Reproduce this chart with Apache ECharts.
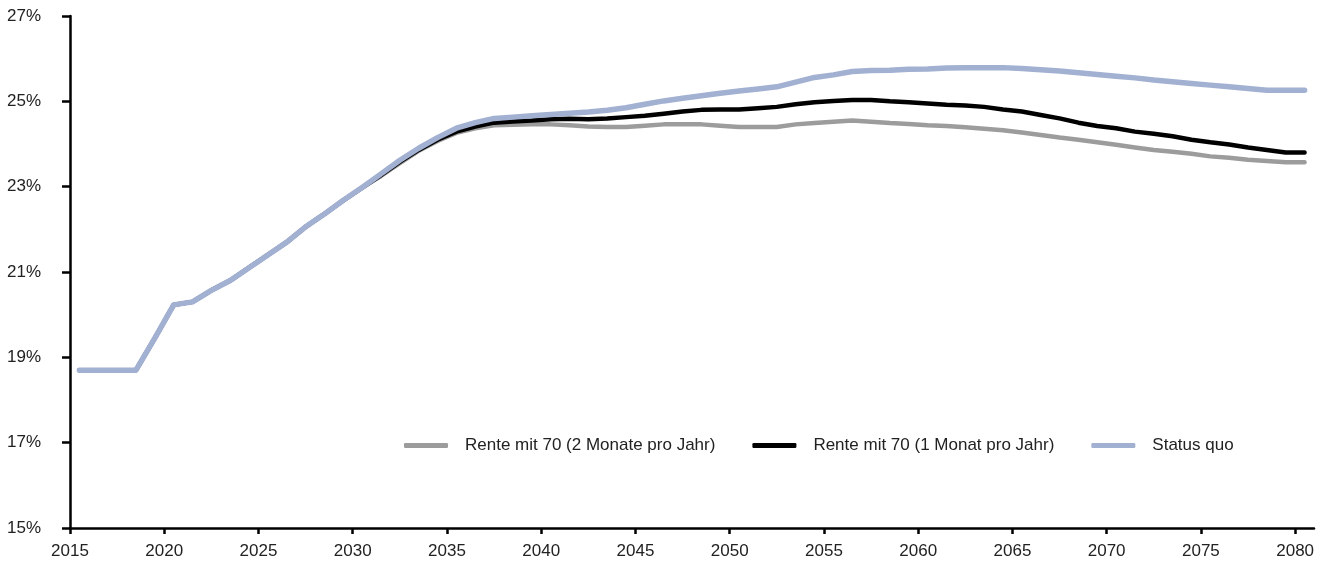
<!DOCTYPE html>
<html>
<head>
<meta charset="utf-8">
<script src="https://cdn.jsdelivr.net/npm/echarts@6/dist/echarts.min.js"></script>
<style>
html,body{margin:0;padding:0;background:#fff;}
#chart{width:1332px;height:570px;}
</style>
</head>
<body>
<div id="chart"></div>
<script>
// Years (values plotted at mid-year)
const years = [];
for (let y = 2015; y <= 2080; y++) years.push(y);

const statusQuo = [
  18.7, 18.7, 18.7, 18.7, 19.45, 20.23, 20.3, 20.57, 20.8, 21.1,
  21.4, 21.7, 22.06, 22.36, 22.68, 22.98, 23.3, 23.62, 23.9, 24.15,
  24.37, 24.5, 24.6, 24.63, 24.66, 24.69, 24.72, 24.75, 24.79, 24.85,
  24.93, 25.01, 25.07, 25.13, 25.19, 25.24, 25.29, 25.34, 25.45, 25.56,
  25.62, 25.7, 25.72, 25.73, 25.75, 25.76, 25.78, 25.79, 25.79, 25.79,
  25.77, 25.74, 25.71, 25.67, 25.63, 25.59, 25.55, 25.5, 25.46, 25.42,
  25.38, 25.34, 25.3, 25.26, 25.26, 25.26
];

const rente1Monat = [
  18.7, 18.7, 18.7, 18.7, 19.45, 20.23, 20.3, 20.57, 20.8, 21.1,
  21.4, 21.7, 22.06, 22.36, 22.68, 22.98, 23.27, 23.58, 23.86, 24.1,
  24.29, 24.41, 24.5, 24.53, 24.55, 24.58, 24.59, 24.58, 24.6, 24.63,
  24.66, 24.71, 24.76, 24.8, 24.81, 24.81, 24.84, 24.87, 24.93, 24.98,
  25.01, 25.03, 25.03, 25.0, 24.98, 24.95, 24.92, 24.9, 24.87, 24.81,
  24.76, 24.68, 24.6, 24.5, 24.42, 24.37, 24.29, 24.24, 24.18, 24.1,
  24.04, 23.99, 23.92, 23.86, 23.8, 23.8
];

const rente2Monate = [
  18.7, 18.7, 18.7, 18.7, 19.45, 20.23, 20.3, 20.57, 20.8, 21.1,
  21.4, 21.7, 22.06, 22.36, 22.68, 22.98, 23.25, 23.55, 23.84, 24.07,
  24.26, 24.37, 24.44, 24.45, 24.46, 24.46, 24.44, 24.41, 24.4, 24.4,
  24.43, 24.46, 24.46, 24.46, 24.43, 24.4, 24.4, 24.4, 24.46, 24.49,
  24.52, 24.55, 24.52, 24.49, 24.47, 24.44, 24.42, 24.39, 24.36, 24.32,
  24.27, 24.21, 24.15, 24.1, 24.04, 23.98, 23.92, 23.86, 23.82, 23.77,
  23.71, 23.68, 23.63, 23.6, 23.57, 23.57
];

const xTicks = [2015, 2020, 2025, 2030, 2035, 2040, 2045, 2050, 2055, 2060, 2065, 2070, 2075, 2080];
const yTicks = [15, 17, 19, 21, 23, 25, 27];

const seriesNames = ['Rente mit 70 (2 Monate pro Jahr)', 'Rente mit 70 (1 Monat pro Jahr)', 'Status quo'];

function pairs(vals) { return years.map((y, i) => [y + 0.5, vals[i]]); }

const FONT = "'Liberation Sans', Arial, sans-serif";
const chart = echarts.init(document.getElementById('chart'), null, {renderer: 'canvas'});
chart.setOption({
  animation: false,
  backgroundColor: '#ffffff',
  grid: {left: 70, right: 18, top: 16, bottom: 42, containLabel: false},
  legend: {
    left: 399, top: 432, width: 920,
    itemWidth: 44, itemHeight: 5, itemGap: 37,
    icon: 'roundRect',
    textStyle: {fontFamily: FONT, fontSize: 17, color: '#222', padding: [0, 0, 0, 12]},
    data: seriesNames
  },
  xAxis: {
    type: 'value', min: 2015, max: 2081, interval: 5,
    splitLine: {show: false},
    axisLine: {show: true, lineStyle: {color: '#000', width: 2.5}},
    axisTick: {show: true, length: 6, lineStyle: {color: '#000', width: 2.5}, customValues: xTicks},
    axisLabel: {fontFamily: FONT, fontSize: 17, color: '#222', margin: 15, customValues: xTicks, formatter: v => String(v)}
  },
  yAxis: {
    type: 'value', min: 15, max: 27, interval: 2,
    splitLine: {show: false},
    axisLine: {show: true, lineStyle: {color: '#000', width: 2.5}},
    axisTick: {show: true, length: 8, lineStyle: {color: '#000', width: 2.5}, customValues: yTicks},
    axisLabel: {fontFamily: FONT, fontSize: 17, color: '#222', margin: 29, customValues: yTicks, formatter: v => v + '%'}
  },
  series: [
    {name: seriesNames[0], type: 'line', data: pairs(rente2Monate), showSymbol: false, symbol: 'none',
     lineStyle: {color: '#9c9c9c', width: 4.5, cap: 'round', join: 'round'}, itemStyle: {color: '#9c9c9c'}, z: 2},
    {name: seriesNames[1], type: 'line', data: pairs(rente1Monat), showSymbol: false, symbol: 'none',
     lineStyle: {color: '#000000', width: 4.5, cap: 'round', join: 'round'}, itemStyle: {color: '#000000'}, z: 3},
    {name: seriesNames[2], type: 'line', data: pairs(statusQuo), showSymbol: false, symbol: 'none',
     lineStyle: {color: '#a2b1d2', width: 5.5, cap: 'round', join: 'round'}, itemStyle: {color: '#a2b1d2'}, z: 4}
  ]
});
</script>
</body>
</html>
